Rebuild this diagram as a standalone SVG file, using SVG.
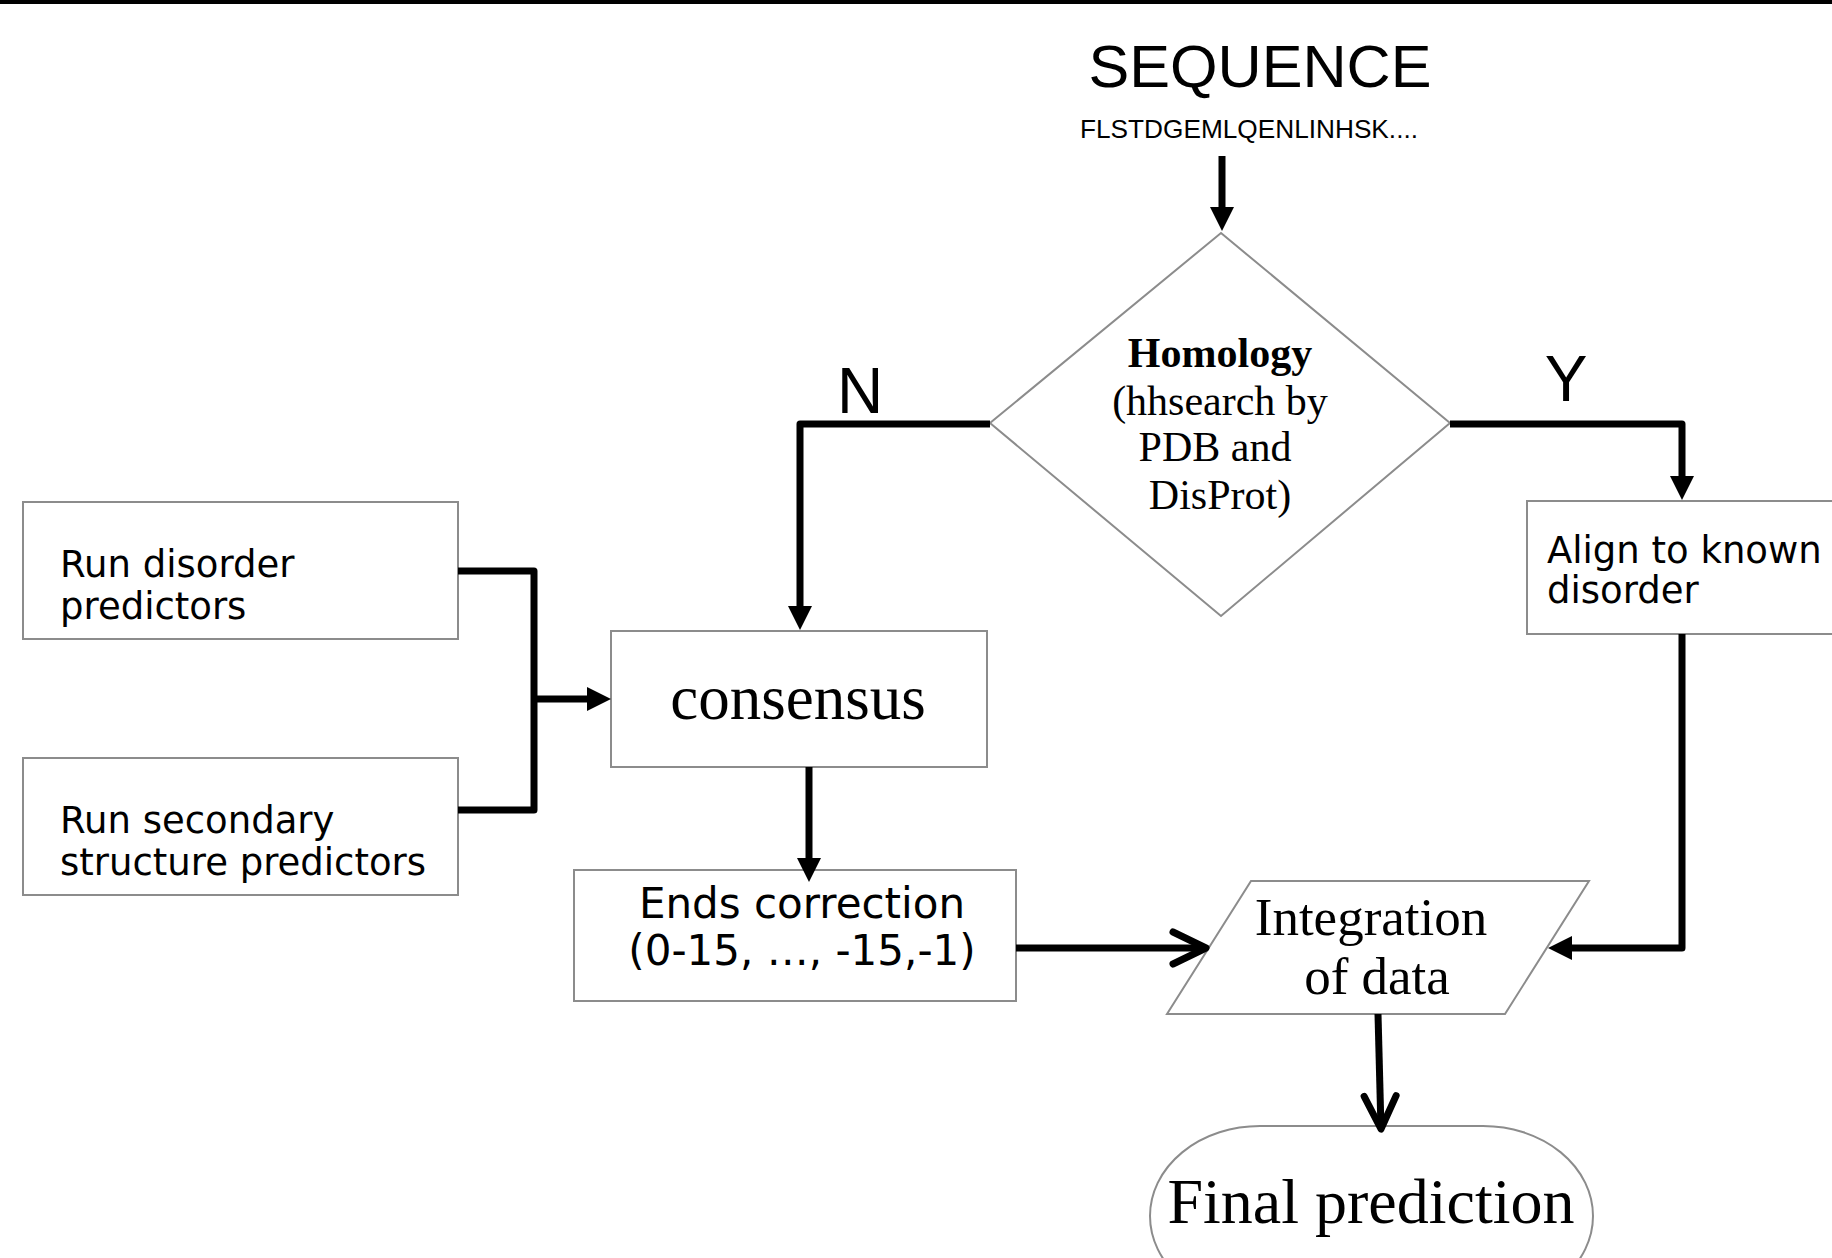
<svg xmlns="http://www.w3.org/2000/svg" width="1832" height="1258" viewBox="0 0 1832 1258">
  <style>
    .box { fill: #ffffff; stroke: #8c8c8c; stroke-width: 2; }
    .conn { fill: none; stroke: #000000; stroke-width: 7; stroke-linejoin: round; }
    .sans { font-family: "DejaVu Sans", "Liberation Sans", sans-serif; fill: #000; }
    .arial { font-family: "Liberation Sans", Arial, sans-serif; fill: #000; }
    .serif { font-family: "Liberation Serif", "Times New Roman", serif; fill: #000; }
  </style>
  <defs>
    <marker id="tri" markerUnits="userSpaceOnUse" markerWidth="24" markerHeight="24" viewBox="0 0 24 24" refX="0" refY="12" orient="auto" overflow="visible">
      <path d="M0,0 L24,12 L0,24 z" fill="#000"/>
    </marker>
    <marker id="chev" markerUnits="userSpaceOnUse" markerWidth="40" markerHeight="40" viewBox="0 0 40 40" refX="36" refY="20" orient="auto" overflow="visible">
      <path d="M3,4 L36,20 L3,36" fill="none" stroke="#000" stroke-width="7" stroke-linecap="round" stroke-linejoin="round"/>
    </marker>
  </defs>
  <rect width="1832" height="1258" fill="#ffffff"/>
  <rect x="0" y="0" width="1832" height="4" fill="#000"/>

  <g id="sequence">
    <text class="arial" x="1260" y="87" font-size="59" text-anchor="middle" textLength="343" lengthAdjust="spacingAndGlyphs">SEQUENCE</text>
    <text class="arial" x="1249" y="138" font-size="26.5" text-anchor="middle" textLength="338" lengthAdjust="spacingAndGlyphs">FLSTDGEMLQENLINHSK....</text>
  </g>

  <g id="homology">
    <polygon class="box" points="1221,233 1450,423 1221,616 990,423"/>
    <text class="serif" x="1220" y="367" font-size="42" font-weight="bold" text-anchor="middle">Homology</text>
    <text class="serif" x="1220" y="415" font-size="42" text-anchor="middle">(hhsearch by</text>
    <text class="serif" x="1215" y="461" font-size="42" text-anchor="middle">PDB and</text>
    <text class="serif" x="1220" y="509" font-size="42" text-anchor="middle">DisProt)</text>
  </g>

  <g id="label-n">
    <text class="arial" x="860" y="413" font-size="64" text-anchor="middle">N</text>
  </g>
  <g id="label-y">
    <text class="arial" x="1566" y="401" font-size="64" text-anchor="middle">Y</text>
  </g>

  <g id="run-disorder">
    <rect class="box" x="23" y="502" width="435" height="137"/>
    <text class="sans" x="60" y="577" font-size="37">Run disorder</text>
    <text class="sans" x="60" y="619" font-size="37">predictors</text>
  </g>

  <g id="run-secondary">
    <rect class="box" x="23" y="758" width="435" height="137"/>
    <text class="sans" x="60" y="833" font-size="37">Run secondary</text>
    <text class="sans" x="60" y="875" font-size="37">structure predictors</text>
  </g>

  <g id="consensus">
    <rect class="box" x="611" y="631" width="376" height="136"/>
    <text class="serif" x="798" y="719" font-size="63" text-anchor="middle">consensus</text>
  </g>

  <g id="ends-correction">
    <rect class="box" x="574" y="870" width="442" height="131"/>
    <text class="sans" x="802" y="918" font-size="42" text-anchor="middle">Ends correction</text>
    <text class="sans" x="802" y="965" font-size="42" text-anchor="middle">(0-15, …, -15,-1)</text>
  </g>

  <g id="align">
    <rect class="box" x="1527" y="501" width="320" height="133"/>
    <text class="sans" x="1547" y="563" font-size="37">Align to known</text>
    <text class="sans" x="1547" y="603" font-size="37">disorder</text>
  </g>

  <g id="integration">
    <polygon class="box" points="1251,881 1589,881 1505,1014 1167,1014"/>
    <text class="serif" x="1371" y="935" font-size="53" text-anchor="middle">Integration</text>
    <text class="serif" x="1377" y="994" font-size="53" text-anchor="middle">of data</text>
  </g>

  <g id="final-prediction">
    <rect class="box" x="1150" y="1126" width="443" height="180" rx="110" ry="90"/>
    <text class="serif" x="1371" y="1223" font-size="64" text-anchor="middle">Final prediction</text>
  </g>

  <g id="connectors">
    <path class="conn" d="M1222,156 V207" marker-end="url(#tri)"/>
    <path class="conn" d="M990,424 H800 V606" marker-end="url(#tri)"/>
    <path class="conn" d="M1450,424 H1682 V476" marker-end="url(#tri)"/>
    <path class="conn" d="M458,571 H534 V810 H458"/>
    <path class="conn" d="M534,699 H587" marker-end="url(#tri)"/>
    <path class="conn" d="M809,767 V858" marker-end="url(#tri)"/>
    <path class="conn" d="M1016,948 H1206" marker-end="url(#chev)"/>
    <path class="conn" d="M1682,634 V948 H1572" marker-end="url(#tri)"/>
    <path class="conn" d="M1378,1014 L1381,1129" marker-end="url(#chev)"/>
  </g>
</svg>
